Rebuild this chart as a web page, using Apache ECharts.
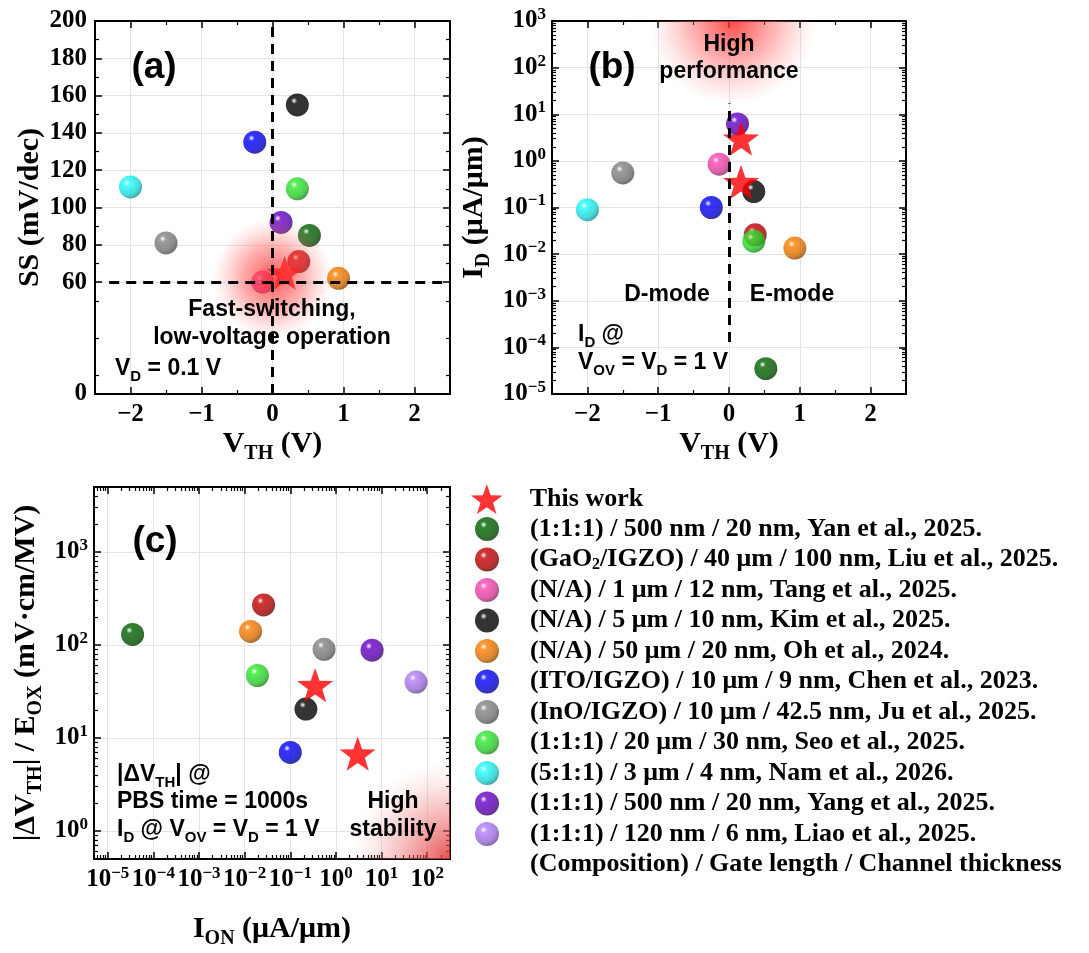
<!DOCTYPE html>
<html lang="en">
<head>
<meta charset="UTF-8">
<title>IGZO benchmark</title>
<script src="https://cdn.jsdelivr.net/npm/echarts@6.0.0/dist/echarts.min.js"></script>
<style>
    *{margin:0;padding:0;}
    html,body{width:100%;height:100%;background:#fff;}
    .container{width:1089px;height:953px;}
</style>
</head>
<body>
<div class="container"></div>
<script>
    // reference devices (legend order)
    const refNames = [
        '(1:1:1) / 500 nm / 20 nm, Yan et al., 2025.',
        '(GaO2/IGZO) / 40 μm / 100 nm, Liu et al., 2025.',
        '(N/A) / 1 μm / 12 nm, Tang et al., 2025.',
        '(N/A) / 5 μm / 10 nm, Kim et al., 2025.',
        '(N/A) / 50 μm / 20 nm, Oh et al., 2024.',
        '(ITO/IGZO) / 10 μm / 9 nm, Chen et al., 2023.',
        '(InO/IGZO) / 10 μm / 42.5 nm, Ju et al., 2025.',
        '(1:1:1) / 20 μm / 30 nm, Seo et al., 2025.',
        '(5:1:1) / 3 μm / 4 nm, Nam et al., 2026.',
        '(1:1:1) / 500 nm / 20 nm, Yang et al., 2025.',
        '(1:1:1) / 120 nm / 6 nm, Liao et al., 2025.'
    ];
    const refColors = ['#006400', '#c80000', '#ff46b4', '#000000', '#ff8000', '#0000ff',
        '#858585', '#30ee30', '#20ffff', '#6600cc', '#b57cff'];
    const refVth  = [0.52, 0.37, -0.14, 0.35, 0.93, -0.25, -1.5, 0.35, -2.0, 0.12, null];
    const refSS   = [85, 71, 60, 155, 62, 135, 81, 110, 111, 92, null];
    const refId   = [3.5e-5, 0.026, 0.85, 0.22, 0.0135, 0.1, 0.55, 0.019, 0.09, 6.2, null];
    const refIon  = [3.5e-5, 0.026, null, 0.22, 0.0135, 0.1, 0.55, 0.019, null, 6.2, 57];
    const refDvth = [130, 270, null, 20.5, 140, 7, 90, 47, null, 88, 40];

    // this work
    const workName = 'This work';
    const workVthA = [0.17], workSS = [65];
    const workVthB = [0.17, 0.17], workId = [3.0, 0.35];
    const workIon = [0.35, 3.0], workDvth = [37, 6.8];

    const ssLabels = [0, 60, 80, 100, 120, 140, 160, 180, 200];
    const footName = '(Composition) / Gate length / Channel thickness';

    const SERIF = '"Liberation Serif","Times New Roman",serif';
    const SANS = '"Liberation Sans",Arial,sans-serif';
    const STAR = 'path://M50 0 L61.76 33.82 L97.55 34.55 L69.02 56.18 L79.39 90.45 L50 70 L20.61 90.45 L30.98 56.18 L2.45 34.55 L38.24 33.82 Z';

    let chart = echarts.init(document.querySelector('.container'));

    function shade(hex, k) {
        let n = parseInt(hex.slice(1), 16);
        let r = Math.round(((n >> 16) & 255) * k), g = Math.round(((n >> 8) & 255) * k), b = Math.round((n & 255) * k);
        return 'rgb(' + r + ',' + g + ',' + b + ')';
    }
    function ball(c) {
        return new echarts.graphic.RadialGradient(0.36, 0.32, 0.75, [
            {offset: 0, color: '#ffffff'},
            {offset: 0.18, color: c},
            {offset: 0.7, color: shade(c, 0.82)},
            {offset: 1, color: shade(c, 0.5)}
        ]);
    }
    const minus = v => v < 0 ? '−' + Math.abs(v) : String(v);
    const logLabel = v => {
        let e = Math.round(Math.log10(v));
        return '{b|10}{p|' + minus(e) + '}';
    };

    const tickRich = {
        b: {fontFamily: SERIF, fontWeight: 'bold', fontSize: 25, color: '#000', lineHeight: 30},
        p: {fontFamily: SERIF, fontWeight: 'bold', fontSize: 17, color: '#000', lineHeight: 15, verticalAlign: 'top'}
    };
    const nameRich = {
        n: {fontFamily: SERIF, fontWeight: 'bold', fontSize: 30, color: '#000', lineHeight: 40},
        s: {fontFamily: SERIF, fontWeight: 'bold', fontSize: 20, color: '#000', lineHeight: 20, verticalAlign: 'bottom'}
    };
    const noteRich = {
        n: {fontFamily: SANS, fontWeight: 'bold', fontSize: 23, color: '#000', lineHeight: 30},
        s: {fontFamily: SANS, fontWeight: 'bold', fontSize: 15, color: '#000', lineHeight: 15, verticalAlign: 'bottom'}
    };

    function axis(o) {
        let base = {
            nameLocation: 'middle',
            nameTextStyle: {fontFamily: SERIF, fontWeight: 'bold', fontSize: 30, color: '#000', rich: nameRich},
            axisLine: {show: true, onZero: false, lineStyle: {color: '#000', width: 2}},
            axisTick: {show: true, inside: true, length: 7, lineStyle: {color: '#000', width: 1.5}},
            minorTick: {show: true, length: 4, splitNumber: o.minor || 2, lineStyle: {color: '#000', width: 1.2}},
            splitLine: {show: true, lineStyle: {color: '#e4e4e4', width: 1}},
            axisLabel: {color: '#000', fontFamily: SERIF, fontWeight: 'bold', fontSize: 25, margin: 8, rich: tickRich}
        };
        let out = Object.assign({}, base, o);
        out.axisLabel = Object.assign({}, base.axisLabel, o.axisLabel || {});
        out.axisTick = Object.assign({}, base.axisTick, o.axisTick || {});
        delete out.minor;
        return out;
    }
    function mirror(a, pos) {
        return Object.assign({}, a, {
            position: pos, name: '',
            axisLabel: {show: false},
            splitLine: {show: false}
        });
    }

    let xA = axis({gridIndex: 0, type: 'value', min: -2.5, max: 2.5, minor: 2,
        name: '{n|V}{s|TH}{n| (V)}', nameGap: 30,
        axisLabel: {formatter: minus, showMinLabel: false, showMaxLabel: false, margin: 8}});
    let xB = Object.assign({}, xA, {gridIndex: 1});
    let xC = axis({gridIndex: 2, type: 'log', logBase: 10, min: 5e-6, max: 316, minor: 9,
        name: '{n|I}{s|ON}{n| (μA/μm)}', nameGap: 50,
        axisLabel: {formatter: logLabel, showMinLabel: false, showMaxLabel: false, margin: 6}});
    let yA = axis({gridIndex: 0, type: 'value', min: 0, max: 200, interval: 20, minor: 2,
        name: 'SS (mV/dec)', nameGap: 50,
        axisLabel: {customValues: ssLabels}, axisTick: {customValues: ssLabels}});
    let yB = axis({gridIndex: 1, type: 'log', logBase: 10, min: 1e-5, max: 1e3, minor: 9,
        name: '{n|I}{s|D}{n| (μA/μm)}', nameGap: 58,
        axisLabel: {formatter: logLabel, margin: 6}});
    let yC = axis({gridIndex: 2, type: 'log', logBase: 10, min: 0.5, max: 5000, minor: 9,
        name: '{n||ΔV}{s|TH}{n|| / E}{s|OX}{n| (mV·cm/MV)}', nameGap: 48,
        nameTextStyle: {fontFamily: SERIF, fontWeight: 'bold', fontSize: 29, color: '#000', rich: nameRich},
        axisLabel: {formatter: logLabel, showMinLabel: false, showMaxLabel: false, margin: 6}});

    let xAxis = [Object.assign({position: 'bottom'}, xA), Object.assign({position: 'bottom'}, xB), Object.assign({position: 'bottom'}, xC),
        mirror(xA, 'top'), mirror(xB, 'top'), mirror(xC, 'top')];
    let yAxis = [Object.assign({position: 'left'}, yA), Object.assign({position: 'left'}, yB), Object.assign({position: 'left'}, yC),
        mirror(yA, 'right'), mirror(yB, 'right'), mirror(yC, 'right')];

    let series = [];

    function glow(grid, pt, r, stops, z) {
        return {
            type: 'custom', xAxisIndex: grid, yAxisIndex: grid, clip: true, silent: true, z: z,
            data: [pt],
            renderItem: function (params, api) {
                let p = api.coord([api.value(0), api.value(1)]);
                return {type: 'circle', shape: {cx: p[0], cy: p[1], r: r},
                    style: {fill: new echarts.graphic.RadialGradient(0.5, 0.5, 0.5, stops)}};
            }
        };
    }
    series.push(glow(1, [0.05, 1000], 84, [
        {offset: 0, color: 'rgba(250,40,40,0.85)'},
        {offset: 0.55, color: 'rgba(255,90,90,0.4)'},
        {offset: 1, color: 'rgba(255,150,150,0)'}], 1));
    series.push(glow(2, [316, 0.5], 100, [
        {offset: 0, color: 'rgba(225,50,50,0.85)'},
        {offset: 0.6, color: 'rgba(240,120,120,0.35)'},
        {offset: 1, color: 'rgba(255,200,200,0)'}], 1));

    // stars first so legend picks the star icon
    let star = {name: workName, type: 'scatter', symbol: STAR, symbolSize: 36, symbolKeepAspect: true,
        itemStyle: {color: '#ff0000'}, z: 3};
    series.push(Object.assign({}, star, {xAxisIndex: 0, yAxisIndex: 0, data: workVthA.map((v, i) => [v, workSS[i]])}));
    series.push(Object.assign({}, star, {xAxisIndex: 1, yAxisIndex: 1, data: workVthB.map((v, i) => [v, workId[i]])}));
    series.push(Object.assign({}, star, {xAxisIndex: 2, yAxisIndex: 2, data: workIon.map((v, i) => [v, workDvth[i]])}));

    refNames.forEach((name, i) => {
        let common = {name: name, type: 'scatter', symbol: 'circle', symbolSize: 23,
            itemStyle: {color: ball(refColors[i])}, z: 2};
        series.push(Object.assign({}, common, {xAxisIndex: 0, yAxisIndex: 0,
            data: refVth[i] != null && refSS[i] != null ? [[refVth[i], refSS[i]]] : []}));
        series.push(Object.assign({}, common, {xAxisIndex: 1, yAxisIndex: 1,
            data: refVth[i] != null && refId[i] != null ? [[refVth[i], refId[i]]] : []}));
        series.push(Object.assign({}, common, {xAxisIndex: 2, yAxisIndex: 2,
            data: refIon[i] != null && refDvth[i] != null ? [[refIon[i], refDvth[i]]] : []}));
    });
    series.push({name: footName, type: 'scatter', xAxisIndex: 2, yAxisIndex: 2, data: []});

    // glow over the points in (a), dashed guide lines on top
    series.push(glow(0, [0.0, 62], 60, [
        {offset: 0, color: 'rgba(255,40,40,0.8)'},
        {offset: 0.5, color: 'rgba(255,70,70,0.45)'},
        {offset: 1, color: 'rgba(255,130,130,0)'}], 4));
    let dash = {silent: true, symbol: ['none', 'none'], label: {show: false},
        lineStyle: {type: [10, 7], width: 3, color: '#000'}, emphasis: {disabled: true}, animation: false};
    series.push({type: 'scatter', xAxisIndex: 0, yAxisIndex: 0, data: [], z: 6,
        markLine: Object.assign({}, dash, {data: [
            [{coord: [0, 0]}, {coord: [0, 200]}],
            [{coord: [-2.3, 60]}, {coord: [2.5, 60]}]
        ]})});
    series.push({type: 'scatter', xAxisIndex: 1, yAxisIndex: 1, data: [], z: 6,
        markLine: Object.assign({}, dash, {data: [
            [{coord: [0, 1.3e-4]}, {coord: [0, 17]}]
        ]})});

    function note(x, y, text, align, size) {
        return {type: 'text', x: x, y: y, z: 100, silent: true,
            style: {text: text, fill: '#000', align: align || 'center', verticalAlign: 'middle',
                font: 'bold ' + (size || 23) + 'px ' + SANS, rich: noteRich}};
    }
    const legendText = {fontFamily: SERIF, fontWeight: 'bold', fontSize: 26, color: '#000',
        rich: {
            n: {fontFamily: SERIF, fontWeight: 'bold', fontSize: 26, color: '#000', lineHeight: 26},
            s: {fontFamily: SERIF, fontWeight: 'bold', fontSize: 16, color: '#000', lineHeight: 16, verticalAlign: 'bottom'}
        }};
    const legendFmt = name => name.indexOf('(GaO2') === 0
        ? '{n|(GaO}{s|2}{n|' + name.slice(5) + '}'
        : '{n|' + name + '}';

    let option = {
        backgroundColor: '#fff',
        animation: false,
        grid: [
            {left: 95, top: 21, width: 355, height: 373},
            {left: 552, top: 21, width: 354, height: 373},
            {left: 94, top: 487, width: 356, height: 372}
        ],
        xAxis: xAxis,
        yAxis: yAxis,
        legend: [
            {data: [workName], orient: 'vertical', left: 466, top: 479, itemWidth: 76, itemHeight: 30,
                selectedMode: false, textStyle: legendText, formatter: legendFmt},
            {data: refNames.concat([{name: footName, icon: 'none'}]), orient: 'vertical', left: 444, top: 511,
                itemWidth: 76, itemHeight: 24, itemGap: 4.5, selectedMode: false,
                textStyle: legendText, formatter: legendFmt}
        ],
        graphic: [
            note(154, 68, '(a)', 'center', 37),
            note(272, 310, 'Fast-switching,'),
            note(272, 338, 'low-voltage operation'),
            note(115, 369, '{n|V}{s|D}{n| = 0.1 V}', 'left'),
            note(612, 68, '(b)', 'center', 37),
            note(729, 45, 'High'),
            note(729, 72, 'performance'),
            note(667, 295, 'D-mode'),
            note(792, 295, 'E-mode'),
            note(578, 335, '{n|I}{s|D}{n| @}', 'left'),
            note(578, 363, '{n|V}{s|OV}{n| = V}{s|D}{n| = 1 V}', 'left'),
            note(155, 542, '(c)', 'center', 37),
            note(117, 775, '{n||ΔV}{s|TH}{n|| @}', 'left'),
            note(117, 802, 'PBS time = 1000s', 'left'),
            note(117, 830, '{n|I}{s|D}{n| @ V}{s|OV}{n| = V}{s|D}{n| = 1 V}', 'left'),
            note(393, 802, 'High'),
            note(393, 830, 'stability')
        ],
        series: series
    };
    chart.setOption(option);
</script>
</body>
</html>
